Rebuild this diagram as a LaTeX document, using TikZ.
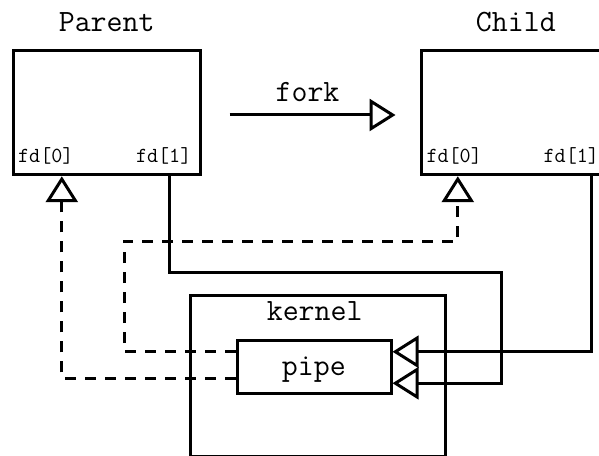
\documentclass[tikz,border=0pt]{standalone}
\usepackage{fontspec}
\usetikzlibrary{arrows.meta,positioning,calc}
\definecolor{ppink}{HTML}{000000}
\tikzset{
  ppbox/.style={draw=ppink, line width=3pt, inner sep=0pt,
                minimum width=187pt, minimum height=124.5pt},
  ppframe/.style={draw=ppink, line width=3pt, inner sep=0pt},
  pptitle/.style={font=\ttfamily\fontsize{31}{31}\selectfont, anchor=base, inner sep=0pt},
  ppfd/.style={font=\ttfamily\fontsize{21.5}{21.5}\selectfont, anchor=base, inner sep=0pt},
  ppedge/.style={-{Triangle[open, length=26pt, width=32pt]}, draw=ppink, line width=3pt},
  ppdash/.style={ppedge, dash pattern=on 11pt off 9pt},
}
\begin{document}
\begin{tikzpicture}[x=1pt,y=1pt]
  \useasboundingbox (0,0) rectangle (599,455);
  % the two processes
  \node[ppbox] (parent) at (107,342.5) {};
  \node[ppbox] (child)  at (515,342.5) {};
  \node[pptitle] (parentlbl) at (106.7,423.3) {Parent};
  \node[pptitle] (childlbl)  at (515.8,423.3) {Child};
  \node[ppfd] (pfd0) at (45.8,292.4)  {fd[0]};
  \node[ppfd] (pfd1) at (163.7,292.4) {fd[1]};
  \node[ppfd] (cfd0) at (454.2,292.4) {fd[0]};
  \node[ppfd] (cfd1) at (571.3,292.4) {fd[1]};
  % fork
  \node[pptitle] (forklbl) at (307.5,353) {fork};
  \draw[ppedge] ([xshift=27.5pt,yshift=-2.5pt]parent.east) -- ([xshift=-24.5pt,yshift=-2.5pt]child.west);
  % kernel and pipe
  \node[ppframe, minimum width=255.5pt, minimum height=160.4pt] (kernel) at (317.75,79.2) {};
  \node[pptitle] (kernellbl) at (314.7,134) {kernel};
  \node[ppframe, fill=white, minimum width=154pt, minimum height=52.5pt] (pipe) at (314,88.25) {};
  \node[pptitle] (pipelbl) at (313.8,80) {pipe};
  % ends of the descriptors
  \coordinate (pin)  at ([xshift=49.8pt]parent.south west);
  \coordinate (pout) at ([xshift=157.2pt]parent.south west);
  \coordinate (cin)  at ([xshift=37.8pt]child.south west);
  \coordinate (cout) at ([xshift=171.2pt]child.south west);
  % write ends
  \draw[ppedge] (pout) |- (501.7,182.3) |- ([yshift=-16.5pt]pipe.east);
  \draw[ppedge] (cout) |- ([yshift=15pt]pipe.east);
  % read ends
  \draw[ppdash] ([yshift=-12pt]pipe.west) -| (pin);
  \draw[ppdash] ([yshift=15pt]pipe.west) -| (124,213.3) -| (cin);
\end{tikzpicture}
\end{document}
